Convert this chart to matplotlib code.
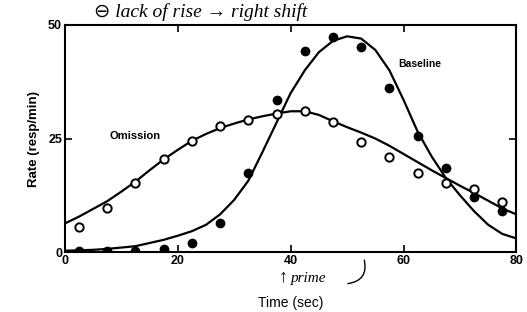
import matplotlib
matplotlib.use("Agg")
import matplotlib.pyplot as plt
from matplotlib.patches import FancyArrowPatch

# ---- data ----
point_times = [2.5, 7.5, 12.5, 17.5, 22.5, 27.5, 32.5, 37.5, 42.5, 47.5,
               52.5, 57.5, 62.5, 67.5, 72.5, 77.5]
omission_pts = [5.5, 9.8, 15.2, 20.4, 24.5, 27.7, 29.0, 30.4, 31.1, 28.7,
                24.3, 21.0, 17.4, 15.2, 13.9, 11.0]
baseline_pts = [0.2, 0.2, 0.2, 0.6, 2.1, 6.4, 17.5, 33.5, 44.2, 47.4,
                45.2, 36.2, 25.5, 18.5, 12.2, 9.0]

curve_times = [0, 2.5, 5, 7.5, 10, 12.5, 15, 17.5, 20, 22.5, 25, 27.5, 30,
               32.5, 35, 37.5, 40, 42.5, 45, 47.5, 50, 52.5, 55, 57.5, 60,
               62.5, 65, 67.5, 70, 72.5, 75, 77.5, 80]
omission_fit = [6.3, 7.8, 9.5, 11.2, 13.3, 15.5, 18.0, 20.4, 22.5, 24.5, 26.0,
                27.3, 28.3, 29.2, 29.9, 30.5, 31.0, 31.0, 30.2, 28.8, 27.5,
                26.3, 25.0, 23.4, 21.6, 19.8, 18.0, 16.3, 14.6, 13.0, 11.3,
                9.6, 8.3]
baseline_fit = [0.3, 0.4, 0.5, 0.7, 1.0, 1.3, 2.0, 2.7, 3.6, 4.6, 6.0, 8.3,
                11.5, 15.7, 22.0, 28.5, 35.0, 40.0, 44.0, 46.5, 47.5, 47.0,
                44.5, 40.0, 33.5, 26.5, 21.0, 16.3, 12.5, 9.0, 6.0, 4.0, 3.0]

x_ticks = [0, 20, 40, 60, 80]
y_ticks = [0, 25, 50]

plt.rcParams['font.family'] = ['Liberation Sans', 'DejaVu Sans']

fig = plt.figure(figsize=(5.27, 3.12), dpi=100)
ax = fig.add_axes([0.123, 0.192, 0.857, 0.728])

ax.plot(curve_times, omission_fit, color='black', lw=1.6, zorder=2)
ax.plot(curve_times, baseline_fit, color='black', lw=1.6, zorder=2)
ax.plot(point_times, omission_pts, 'o', ms=6, mfc='white', mec='black',
        mew=1.4, zorder=3)
ax.plot(point_times, baseline_pts, 'o', ms=6, mfc='black', mec='black',
        zorder=3)

ax.set_xlim(0, 80)
ax.set_ylim(0, 50)
ax.set_xticks(x_ticks)
ax.set_yticks(y_ticks)
ax.set_xticklabels([str(v) for v in x_ticks], fontweight='bold', fontsize=9)
ax.set_yticklabels([str(v) for v in y_ticks], fontweight='bold', fontsize=9)
ax.tick_params(direction='in', length=5, width=1.2, top=True, right=True,
               pad=2)
for s in ax.spines.values():
    s.set_linewidth(1.5)

ax.set_ylabel('Rate (resp/min)', fontsize=9.5, fontweight='bold', labelpad=6)
ax.set_xlabel('Time (sec)', fontsize=10, labelpad=21)

ax.text(8, 25.5, 'Omission', fontsize=8, fontweight='bold', ha='left',
        va='center')
ax.text(59, 41.3, 'Baseline', fontsize=7.5, fontweight='bold', ha='left',
        va='center')

# handwritten annotations
hand = ['Liberation Serif', 'DejaVu Sans']
fig.text(0.178, 0.962, '\u2296 lack of rise \u2192 right shift', fontsize=14,
         fontstyle='italic', family=hand, ha='left', va='center')
fig.text(0.537, 0.112, '\u2191', fontsize=13, fontweight='bold', ha='center',
         va='center')
fig.text(0.552, 0.108, 'prime', fontsize=11, fontstyle='italic', family=hand,
         ha='left', va='center')
fig.patches.append(FancyArrowPatch((0.655, 0.09), (0.69, 0.175),
                                   transform=fig.transFigure,
                                   arrowstyle='-', lw=1.0, color='black',
                                   connectionstyle='arc3,rad=0.6'))

fig.savefig('out.png', dpi=100)
